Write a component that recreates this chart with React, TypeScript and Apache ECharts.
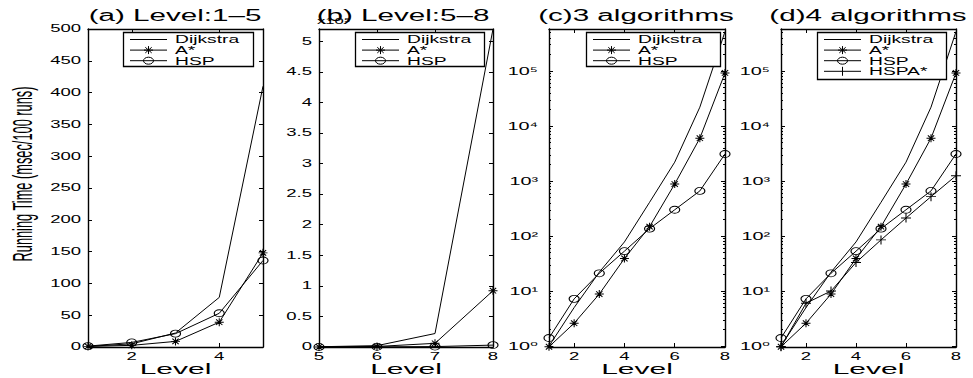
import React, { useEffect, useRef } from 'react';
import * as echarts from 'echarts';

// ---------------- data ----------------
const LEVELS = [1, 2, 3, 4, 5, 6, 7, 8];
const DIJKSTRA = [1.0, 5, 22, 78, 410, 2200, 22000, 520000];
const ASTAR = [0.97, 2.6, 8.8, 39, 148, 880, 6000, 92000];
const HSP = [1.4, 7.2, 21, 53, 136, 300, 660, 3100];
const HSPASTAR = [0.97, 6, 10, 33, 85, 212, 520, 1250];

const SERIES_NAMES = ['Dijkstra', 'A*', 'HSP', 'HSPA*'];
const VALUES = [DIJKSTRA, ASTAR, HSP, HSPASTAR];

const A_X_TICKS = [2, 4];
const A_Y_TICKS = [0, 50, 100, 150, 200, 250, 300, 350, 400, 450, 500];
const B_X_TICKS = [5, 6, 7, 8];
const B_Y_TICKS = [0, 0.5, 1, 1.5, 2, 2.5, 3, 3.5, 4, 4.5, 5];
const LOG_X_TICKS = [2, 4, 6, 8];
const LOG_Y_TICKS = [1, 10, 100, 1000, 10000, 100000];

const TITLES = ['(a) Level:1–5', '(b) Level:5–8', '(c)3 algorithms', '(d)4 algorithms'];
const X_NAME = 'Level';
const Y_NAME = 'Running Time (msec/100 runs)';
const B_EXPONENT = 'x10⁵';

// ---------------- layout ----------------
const FONT = '"Liberation Sans", Arial, Helvetica, "DejaVu Sans", sans-serif';
const TOP = 29;
const HEIGHT = 318;
const LAYOUT = [
  { left: 88, width: 175, titleX: 175, legendX: 123, legendW: 130 },
  { left: 319, width: 174, titleX: 403, legendX: 355, legendW: 129 },
  { left: 549, width: 176, titleX: 636, legendX: 586, legendW: 134 },
  { left: 781, width: 175, titleX: 868, legendX: 817, legendW: 129 },
];

const PANEL_DEFS = [
  { from: 0, to: 5, scale: 1, log: false, xMin: 1, xMax: 5, yMin: 0, yMax: 500, xTicks: A_X_TICKS, yTicks: A_Y_TICKS, n: 3 },
  { from: 4, to: 8, scale: 1e-5, log: false, xMin: 5, xMax: 8, yMin: 0, yMax: 5.2, xTicks: B_X_TICKS, yTicks: B_Y_TICKS, n: 3 },
  { from: 0, to: 8, scale: 1, log: true, xMin: 1, xMax: 8, yMin: 0.96, yMax: 580000, xTicks: LOG_X_TICKS, yTicks: LOG_Y_TICKS, n: 3 },
  { from: 0, to: 8, scale: 1, log: true, xMin: 1, xMax: 8, yMin: 0.96, yMax: 580000, xTicks: LOG_X_TICKS, yTicks: LOG_Y_TICKS, n: 4 },
];

const STAR = 'path://M5,0L5,10M0,5L10,5M1.5,1.5L8.5,8.5M1.5,8.5L8.5,1.5';
const ELLIPSE = 'path://M0,5A5,5,0,1,1,10,5A5,5,0,1,1,0,5Z';
const PLUS = 'path://M0,5L10,5M5,0L5,10';
const MARKERS: Record<string, { symbol: string; size: number[] }> = {
  Dijkstra: { symbol: 'none', size: [1, 1] },
  'A*': { symbol: STAR, size: [9, 8] },
  HSP: { symbol: ELLIPSE, size: [10, 7] },
  'HSPA*': { symbol: PLUS, size: [10, 9] },
};

const SUP = '⁰¹²³⁴⁵⁶⁷⁸⁹';

function minorLogTicks(max: number) {
  const out: number[] = [];
  for (let d = 0; d <= 5; d++) {
    for (let k = 2; k <= 9; k++) {
      const v = k * Math.pow(10, d);
      if (v < max) out.push(v);
    }
  }
  return out;
}

const lineStyle = { color: '#000', width: 1 };
const axisLineStyle = { color: '#000', width: 1.4 };

function makeAxis(extra: any, ticks: number[], tickLen: number, showLine: boolean) {
  return {
    axisLine: { show: showLine, onZero: false, lineStyle: axisLineStyle },
    axisTick: { show: true, inside: true, length: tickLen, customValues: ticks, lineStyle },
    axisLabel: { show: false },
    splitLine: { show: false },
    minorTick: { show: false },
    ...extra,
  };
}

const axisIdx: { xb: number; yl: number }[] = [];

function buildOption() {
  const grid: any[] = [];
  const xAxis: any[] = [];
  const yAxis: any[] = [];
  const series: any[] = [];
  PANEL_DEFS.forEach((p, g) => {
    const L = LAYOUT[g];
    grid.push({ left: L.left, top: TOP, width: L.width, height: HEIGHT, containLabel: false, outerBoundsMode: 'none' });
    const xb = xAxis.length;
    ['bottom', 'top'].forEach((pos) => {
      xAxis.push(makeAxis({ gridIndex: g, type: 'value', position: pos, min: p.xMin, max: p.xMax }, p.xTicks, 4, true));
    });
    const yl = yAxis.length;
    const yType = p.log ? 'log' : 'value';
    ['left', 'right'].forEach((pos) => {
      yAxis.push(makeAxis({ gridIndex: g, type: yType, logBase: 10, position: pos, min: p.yMin, max: p.yMax }, p.yTicks, 4, true));
    });
    if (p.log) {
      const minor = minorLogTicks(p.yMax);
      ['left', 'right'].forEach((pos) => {
        yAxis.push(makeAxis({ gridIndex: g, type: 'log', logBase: 10, position: pos, min: p.yMin, max: p.yMax }, minor, 2, false));
      });
    }
    axisIdx[g] = { xb, yl };
    for (let k = 0; k < p.n; k++) {
      const name = SERIES_NAMES[k];
      const m = MARKERS[name];
      series.push({
        type: 'line',
        name,
        xAxisIndex: xb,
        yAxisIndex: yl,
        data: LEVELS.slice(p.from, p.to).map((lv, j) => [lv, VALUES[k][p.from + j] * p.scale]),
        symbol: m.symbol,
        symbolSize: m.size,
        showSymbol: m.symbol !== 'none',
        lineStyle,
        itemStyle: { color: 'rgba(0,0,0,0)', borderColor: '#000', borderWidth: 1 },
        emphasis: { disabled: true },
        silent: true,
        z: 3,
      });
    }
  });
  return {
    animation: false,
    backgroundColor: '#fff',
    grid,
    xAxis,
    yAxis,
    series,
  };
}

function txt(text: string, x: number, y: number, size: number, align: string, vAlign: string, sx: number, z = 50) {
  return {
    type: 'text',
    x,
    y,
    scaleX: sx,
    z,
    silent: true,
    style: { text, fontSize: size, fontFamily: FONT, fill: '#000', align, verticalAlign: vAlign },
  };
}

function legendGroup(i: number) {
  const L = LAYOUT[i];
  const n = PANEL_DEFS[i].n;
  const rowGap = 10.6;
  const h = n === 3 ? 34 : 47;
  const Z = 100;
  const st = { stroke: '#000', lineWidth: 1 };
  const children: any[] = [
    { type: 'rect', z: Z, shape: { x: 0.5, y: 0.5, width: L.legendW, height: h }, style: { fill: '#fff', stroke: '#000', lineWidth: 1.3 } },
  ];
  const cx = 25.5;
  for (let k = 0; k < n; k++) {
    const y = 7.5 + k * rowGap;
    children.push({ type: 'line', z: Z + 1, shape: { x1: 7, y1: y, x2: 44, y2: y }, style: st });
    const name = SERIES_NAMES[k];
    if (name === 'A*') {
      children.push({ type: 'line', z: Z + 1, shape: { x1: cx - 4.5, y1: y, x2: cx + 4.5, y2: y }, style: st });
      children.push({ type: 'line', z: Z + 1, shape: { x1: cx, y1: y - 4, x2: cx, y2: y + 4 }, style: st });
      children.push({ type: 'line', z: Z + 1, shape: { x1: cx - 3.2, y1: y - 2.8, x2: cx + 3.2, y2: y + 2.8 }, style: st });
      children.push({ type: 'line', z: Z + 1, shape: { x1: cx - 3.2, y1: y + 2.8, x2: cx + 3.2, y2: y - 2.8 }, style: st });
    } else if (name === 'HSP') {
      children.push({ type: 'ellipse', z: Z + 1, shape: { cx, cy: y, rx: 5, ry: 3.5 }, style: { fill: 'none', stroke: '#000', lineWidth: 1 } });
    } else if (name === 'HSPA*') {
      children.push({ type: 'line', z: Z + 1, shape: { x1: cx, y1: y - 4.5, x2: cx, y2: y + 4.5 }, style: st });
    }
    children.push(txt(name, 52, y, 11, 'left', 'middle', 1.75, Z + 2));
  }
  return { type: 'group', x: L.legendX, y: 32, z: Z, children };
}

function buildGraphics(chart: any) {
  const els: any[] = [];
  PANEL_DEFS.forEach((p, i) => {
    const L = LAYOUT[i];
    const { xb, yl } = axisIdx[i];
    els.push(txt(TITLES[i], L.titleX, 15, 16, 'center', 'middle', 1.85));
    els.push(txt(X_NAME, L.left + L.width / 2, 368.5, 15, 'center', 'middle', 2));
    p.xTicks.forEach((v) => {
      const px = chart.convertToPixel({ xAxisIndex: xb }, v);
      els.push(txt(String(v), px, 356.5, 10, 'center', 'middle', 1.85));
    });
    p.yTicks.forEach((v) => {
      const py = chart.convertToPixel({ yAxisIndex: yl }, v);
      if (p.log) {
        const e = Math.round(Math.log10(v));
        els.push(txt('10' + SUP[e], L.left - 11, py, 11, 'right', 'middle', 1.8));
      } else {
        els.push(txt(String(v), L.left - 7, py, 10, 'right', 'middle', 1.85));
      }
    });
    els.push(legendGroup(i));
  });
  // exponent label of panel (b), overlapping its title as in the original
  els.push(txt(B_EXPONENT, LAYOUT[1].left - 2, 21, 9, 'left', 'middle', 1.85, 60));
  // y axis name
  els.push({
    type: 'text',
    x: 23,
    y: 174,
    rotation: Math.PI / 2,
    scaleX: 0.8,
    scaleY: 1.72,
    z: 50,
    silent: true,
    style: { text: Y_NAME, fontSize: 16, fontFamily: FONT, fill: '#000', align: 'center', verticalAlign: 'middle' },
  });
  return els;
}

export default function App() {
  const ref = useRef<HTMLDivElement>(null);
  useEffect(() => {
    const chart = echarts.init(ref.current as HTMLDivElement, null, { renderer: 'svg' });
    chart.setOption(buildOption() as any);
    chart.setOption({ graphic: { elements: buildGraphics(chart) } } as any);
    return () => chart.dispose();
  }, []);
  return (
    <div
      ref={ref}
      style={{ position: 'fixed', left: 0, top: 0, width: 973, height: 378, background: '#fff' }}
    />
  );
}
